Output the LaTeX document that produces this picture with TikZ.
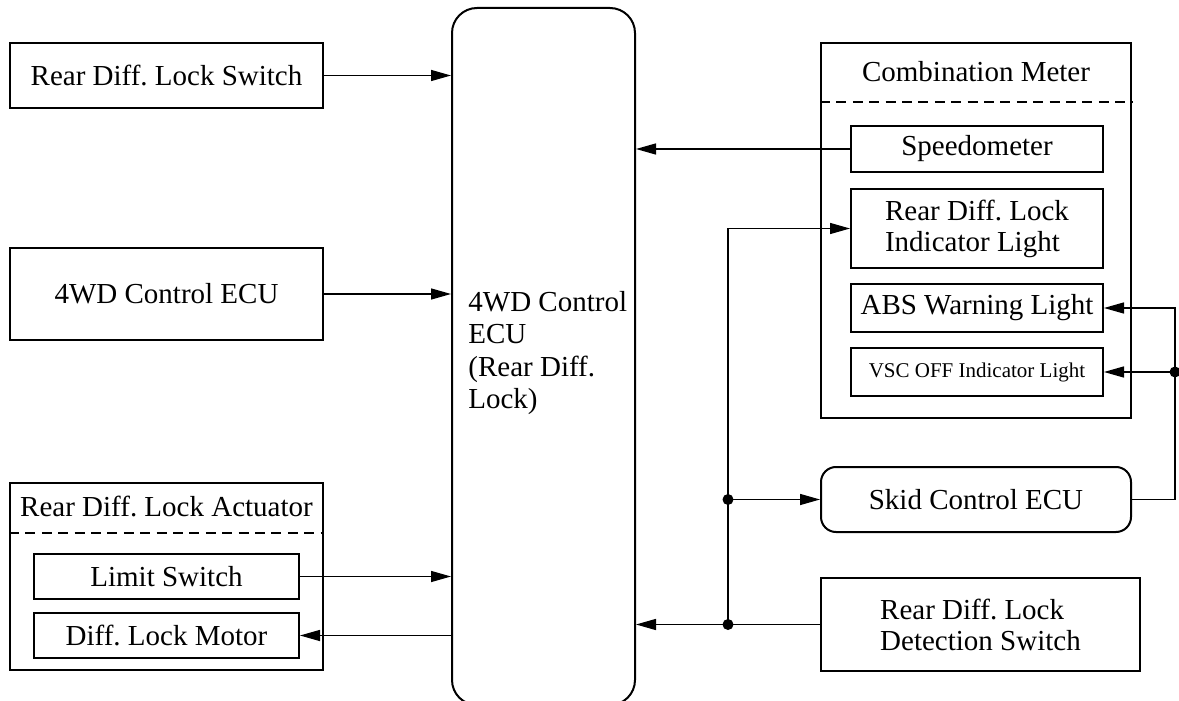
\documentclass[tikz,border=0pt]{standalone}
\usepackage{fontspec}
\setmainfont{Liberation Serif}
\usetikzlibrary{arrows.meta,calc}

\tikzset{
  box/.style={draw, line width=1pt, inner sep=2pt, font=\fontsize{14.5}{15.5}\selectfont},
  roundbox/.style={box, rounded corners=7.5pt},
  label/.style={inner sep=0pt, font=\fontsize{14.5}{15.5}\selectfont},
  wire/.style={line width=0.75pt},
  sig/.style={wire, -{Triangle[length=10pt,width=5.5pt]}},
  divider/.style={line width=0.75pt, dash pattern=on 5pt off 3.2pt},
  junction/.style={circle, fill, inner sep=0pt, minimum size=5.5pt},
}

\begin{document}
\frenchspacing
\begin{tikzpicture}[x=0.5pt, y=-0.5pt]
\useasboundingbox (0,0) rectangle (1179,701);

% central control unit
\node[box, rounded corners=12.5pt, minimum width=91.5pt, minimum height=348.5pt] (ecu) at (543.5,356.5) {};
\node[label, align=left, anchor=west] (ecutext) at (468,353)
  {4WD Control\\[0.6pt]ECU\\[0.6pt](Rear Diff.\\[0.6pt]Lock)};

% left-hand inputs
\node[box, minimum width=156.5pt, minimum height=32.5pt] (rdls) at (166.5,75.5) {Rear Diff. Lock Switch};
\node[box, minimum width=156.5pt, minimum height=46pt] (fwd) at (166.5,294) {4WD Control ECU};

% actuator group
\node[box, minimum width=156.5pt, minimum height=93.5pt] (act) at (166.5,576.5) {};
\node[label] (acttitle) at (166.5,506) {Rear Diff. Lock Actuator};
\draw[divider] ($(act.north west)+(0,51)$) -- ($(act.north east)+(0,51)$);
\node[box, minimum width=132.5pt, minimum height=22.5pt] (lim) at (166.5,576.5) {Limit Switch};
\node[box, minimum width=132.5pt, minimum height=22.5pt] (mot) at (166.5,635.5) {Diff. Lock Motor};

% combination meter group
\node[box, minimum width=155pt, minimum height=187.5pt] (cm) at (976,230.5) {};
\node[label] (cmtitle) at (976,72) {Combination Meter};
\draw[divider] ($(cm.north west)+(0,60)$) -- ($(cm.north east)+(0,60)$);
\node[box, minimum width=126pt, minimum height=23pt] (spd) at (977,149) {Speedometer};
\node[box, align=left, minimum width=126pt, minimum height=39.5pt] (ind) at (977,228.5) {Rear Diff. Lock\\Indicator Light};
\node[box, inner sep=0pt, minimum width=126pt, minimum height=24pt] (abs) at (977,308) {ABS Warning Light};
\node[box, minimum width=126pt, minimum height=24pt, font=\fontsize{10.5}{12}\selectfont] (vsc) at (977,372) {VSC OFF Indicator Light};

% other right-hand units
\node[roundbox, minimum width=155pt, minimum height=32.5pt] (skid) at (976,499.5) {Skid Control ECU};
\node[box, align=left, minimum width=159.5pt, minimum height=46.5pt] (det) at (980.5,624.5) {Rear Diff. Lock\\Detection Switch};

% junction points
\coordinate (jdet) at (728,624.5);
\coordinate (jskid) at (728,499.5);
\coordinate (jright) at (1175,372);

% inputs to the control unit
\draw[sig] (rdls.east) -- (rdls.east -| ecu.west);
\draw[sig] (fwd.east) -- (fwd.east -| ecu.west);
\draw[sig] (lim.east) -- (lim.east -| ecu.west);
\draw[sig] (mot.east -| ecu.west) -- (mot.east);
\draw[sig] (spd.west) -- (spd.west -| ecu.east);
\draw[sig] (det.west) -- (det.west -| ecu.east);

% detection switch branch
\draw[sig] (jdet) -- (jdet |- ind.west) -- (ind.west);
\draw[sig] (jskid) -- (skid.west);

% skid control outputs
\draw[sig] (skid.east) -- (skid.east -| jright) -- (jright |- abs.east) -- (abs.east);
\draw[sig] (jright) -- (vsc.east);

\node[junction] (dot1) at (jdet) {};
\node[junction] (dot2) at (jskid) {};
\node[junction] (dot3) at (jright) {};
\end{tikzpicture}
\end{document}
